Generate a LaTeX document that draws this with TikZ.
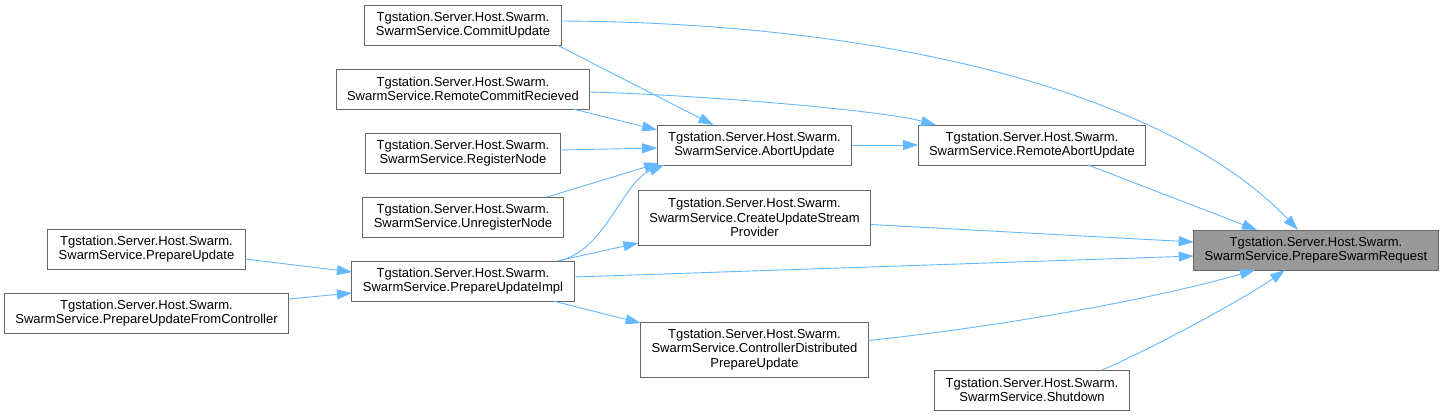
\documentclass[tikz,border=0pt]{standalone}
\usepackage{fontspec}
\setmainfont{Liberation Sans}
\usepackage{tikz}
\usetikzlibrary{positioning,arrows.meta,calc}
\definecolor{cEdge}{HTML}{63B8FF}
\definecolor{cLine}{HTML}{666666}
\definecolor{cHl}{HTML}{999999}
\tikzset{
  fn/.style={rectangle, draw=cLine, fill=white, line width=1pt, align=center,
             inner xsep=11pt, inner ysep=3.5pt, outer sep=0pt, minimum height=40pt,
             font=\fontsize{13}{14.3}\selectfont},
  fnl/.style={fn, minimum height=55pt},
  fnhl/.style={fn, fill=cHl},
  call/.style={-{Triangle[length=15pt,width=10pt]}, draw=cEdge, line width=0.9pt},
}

\begin{document}
\begin{tikzpicture}[x=1pt, y=-1pt]
  \useasboundingbox (0,0) rectangle (1444,416);

  % callers, left to right by rank
  \node[fn] (pu) at (146.5,249) {Tgstation.Server.Host.Swarm.\\SwarmService.PrepareUpdate};
  \node[fn, below=24pt of pu] (pufc) {Tgstation.Server.Host.Swarm.\\SwarmService.PrepareUpdateFromController};

  \node[fn] (cu) at (463,25) {Tgstation.Server.Host.Swarm.\\SwarmService.CommitUpdate};
  \node[fn, below=24pt of cu] (rcr) {Tgstation.Server.Host.Swarm.\\SwarmService.RemoteCommitRecieved};
  \node[fn, below=24pt of rcr] (rn) {Tgstation.Server.Host.Swarm.\\SwarmService.RegisterNode};
  \node[fn, below=24pt of rn] (urn) {Tgstation.Server.Host.Swarm.\\SwarmService.UnregisterNode};
  \node[fn, below=24pt of urn] (pui) {Tgstation.Server.Host.Swarm.\\SwarmService.PrepareUpdateImpl};

  \node[fn] (au) at (754.5,145) {Tgstation.Server.Host.Swarm.\\SwarmService.AbortUpdate};
  \node[fnl, below=25pt of au] (cusp) {Tgstation.Server.Host.Swarm.\\SwarmService.CreateUpdateStream\\Provider};
  \node[fnl, below=77pt of cusp] (cdpu) {Tgstation.Server.Host.Swarm.\\SwarmService.ControllerDistributed\\PrepareUpdate};

  \node[fn] (rau) at (1032,145) {Tgstation.Server.Host.Swarm.\\SwarmService.RemoteAbortUpdate};
  \node[fn] (sd) at (1032,390) {Tgstation.Server.Host.Swarm.\\SwarmService.Shutdown};

  \node[fnhl] (psr) at (1316,250) {Tgstation.Server.Host.Swarm.\\SwarmService.PrepareSwarmRequest};

  % calls
  \draw[call] ($(pu.east)+(0,10)$) -- ($(pui.west)+(0,-9)$);
  \draw[call] ($(pufc.east)+(0,-14)$) -- ($(pui.west)+(0,12)$);
  \draw[call] ($(cu.east)+(0,-4)$) .. controls +(360,2) and +(-118,-125) .. ($(psr.north)+(-18,0)$);
  \draw[call] ($(cu.south)+(94,0)$) -- ($(au.north)+(-41,0)$);
  \draw[call] ($(rcr.east)+(0,3)$) .. controls +(110,3) and +(-56,-15) .. ($(rau.north)+(-96,0)$);
  \draw[call] ($(rcr.south)+(110,0)$) -- ($(au.west)+(0,-15)$);
  \draw[call] ($(rn.east)+(0,-3)$) -- ($(au.west)+(0,3)$);
  \draw[call] ($(urn.north)+(84,0)$) -- ($(au.south west)+(2,-2)$);
  \draw[call] ($(pui.north)+(95,0)$) .. controls +(47,-9) and +(-42,17) .. ($(au.south west)+(7,0)$);
  \draw[call] ($(pui.north)+(94,0)$) -- ($(cusp.south west)+(0,-2)$);
  \draw[call] ($(pui.east)+(0,-4)$) -- ($(psr.west)+(0,6)$);
  \draw[call] ($(pui.south)+(90,0)$) -- ($(cdpu.north west)+(0,1)$);
  \draw[call] (au.east) -- (rau.west);
  \draw[call] ($(rau.south)+(56,0)$) -- ($(psr.north)+(-59,0)$);
  \draw[call] ($(cusp.east)+(0,7)$) -- ($(psr.west)+(0,-8)$);
  \draw[call] ($(cdpu.east)+(0,-9)$) .. controls +(132,-14) and +(-105,30) .. ($(psr.south)+(-61,0)$);
  \draw[call] ($(sd.north)+(70,0)$) .. controls +(58,-25) and +(-35,25) .. ($(psr.south)+(-31,0)$);
\end{tikzpicture}
\end{document}
